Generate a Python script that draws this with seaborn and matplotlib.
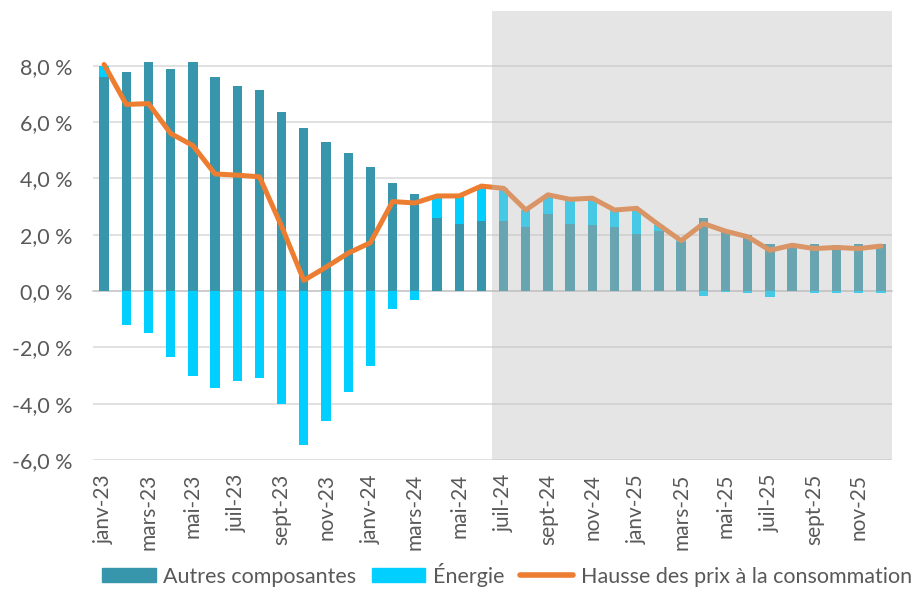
import numpy as np
import pandas as pd
import matplotlib.pyplot as plt
import seaborn as sns
from matplotlib.patches import Patch
from matplotlib.lines import Line2D

# Monthly data, janv-23 to déc-25 (from juil-24 on: projection)
mois = ['janv', 'févr', 'mars', 'avr', 'mai', 'juin',
        'juil', 'août', 'sept', 'oct', 'nov', 'déc']
annees = ['23', '24', '25']
months = [m + '-' + a for a in annees for m in mois]

autres = [7.6, 7.8, 8.15, 7.9, 8.15, 7.6, 7.3, 7.15, 6.35, 5.8, 5.3, 4.9,
          4.4, 3.85, 3.45, 2.6, 2.4, 2.5, 2.5, 2.27, 2.73, 2.4, 2.36, 2.27,
          2.04, 2.14, 1.75, 2.58, 2.17, 1.99, 1.67, 1.63, 1.67, 1.63, 1.67, 1.67]
energie = [0.4, -1.2, -1.5, -2.35, -3.0, -3.45, -3.2, -3.1, -4.0, -5.45, -4.6, -3.6,
           -2.65, -0.65, -0.3, 0.8, 1.0, 1.25, 1.15, 0.6, 0.7, 0.85, 0.95, 0.6,
           0.9, 0.2, 0.05, -0.18, -0.05, -0.08, -0.22, 0.0, -0.08, -0.06, -0.06, -0.06]
hausse_prix = [8.05, 6.63, 6.66, 5.6, 5.17, 4.16, 4.12, 4.06, 2.3, 0.38, 0.85, 1.35,
               1.72, 3.18, 3.13, 3.38, 3.38, 3.73, 3.65, 2.88, 3.42, 3.26, 3.3, 2.88,
               2.94, 2.35, 1.79, 2.4, 2.13, 1.93, 1.45, 1.63, 1.51, 1.55, 1.51, 1.6]
debut_prevision = 'juil-24'

y_ticks = [-6, -4, -2, 0, 2, 4, 6, 8]

teal = '#3796ab'
cyan = '#00cfff'
orange = '#ed7d31'
txt = '#595959'

df = pd.DataFrame({'mois': months, 'autres': autres,
                   'energie': energie, 'total': hausse_prix})
# Excel-style stacking: positive energy sits on top of the other components,
# negative energy hangs below zero
df['haut_pos'] = df['autres'] + df['energie'].clip(lower=0)
df['neg'] = df['energie'].clip(upper=0)
df['pos'] = np.arange(len(df))

sns.set_theme(style='white')
plt.rcParams['font.family'] = ['Lato', 'DejaVu Sans']

fig, ax = plt.subplots(figsize=(9.17, 5.94), dpi=100)
fig.subplots_adjust(left=0.1014, right=0.9727, top=0.9815, bottom=0.2256)

bar_kw = dict(width=0.42, saturation=1, linewidth=0, edgecolor='none', ax=ax)
sns.barplot(data=df, x='mois', y='haut_pos', color=cyan, zorder=3, **bar_kw)
sns.barplot(data=df, x='mois', y='autres', color=teal, zorder=4, **bar_kw)
sns.barplot(data=df, x='mois', y='neg', color=cyan, zorder=3, **bar_kw)
sns.lineplot(data=df, x='pos', y='total', color=orange, lw=3.6, ax=ax,
             zorder=5, solid_capstyle='round', solid_joinstyle='round')

n = len(months)
ax.set_xlim(-0.5, n - 0.5)
ax.set_ylim(-6, 9.95)
ax.set_yticks(y_ticks)
ax.set_yticklabels([f'{v:.1f} %'.replace('.', ',') for v in y_ticks])
ax.yaxis.grid(True, color='#d9d9d9', lw=1.1, zorder=0)
ax.set_axisbelow(True)
ax.tick_params(axis='y', length=0, labelsize=15.5, labelcolor=txt, pad=15)
ax.set_xlabel('')
ax.set_ylabel('')

for s in ['left', 'right', 'top']:
    ax.spines[s].set_visible(False)
ax.spines['bottom'].set_position(('data', 0))
ax.spines['bottom'].set_color('#c8c8c8')
ax.spines['bottom'].set_linewidth(1.1)
ax.spines['bottom'].set_zorder(2)
ax.set_xticks(np.arange(-0.5, n, 2))
ax.set_xticklabels([])
ax.tick_params(axis='x', length=6, width=1.1, color='#c8c8c8', direction='out')

# month labels at the bottom of the plot area
sec = ax.secondary_xaxis('bottom')
sec.set_xticks(range(0, n, 2))
sec.set_xticklabels(months[::2], rotation=90)
sec.tick_params(length=0, labelsize=15, labelcolor=txt, pad=10)
sec.spines['bottom'].set_visible(False)

# projection area
x0 = months.index(debut_prevision) - 0.5
ax.axvspan(x0, n - 0.5, color='#bdbdbd', alpha=0.38, lw=0, zorder=10)

handles = [Patch(color=teal, label='Autres composantes'),
           Patch(color=cyan, label='Énergie'),
           Line2D([], [], color=orange, lw=4, label='Hausse des prix à la consommation')]
fig.legend(handles=handles, loc='lower center', bbox_to_anchor=(0.553, -0.02),
           ncol=3, frameon=False, fontsize=15.5, labelcolor=txt,
           handlelength=2.5, handleheight=0.6, handletextpad=0.35,
           columnspacing=0.7)

fig.savefig('out.png', dpi=100)
